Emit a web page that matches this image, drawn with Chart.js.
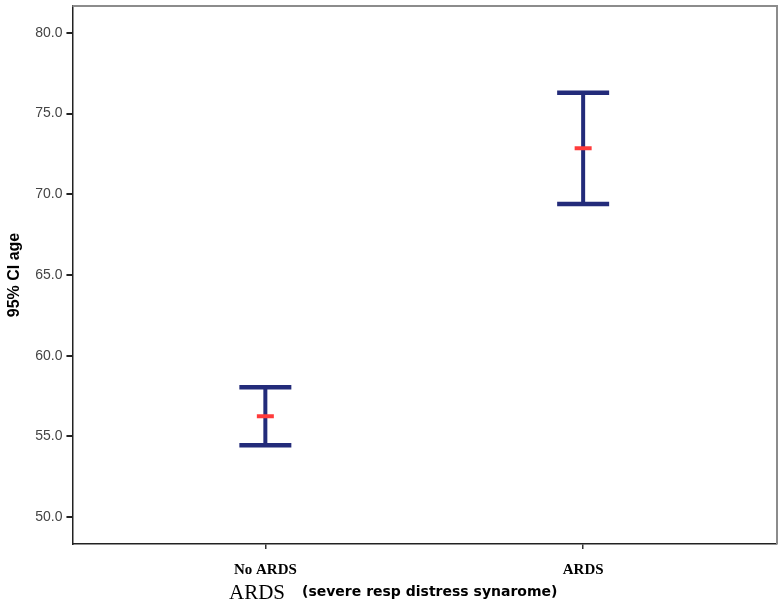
<!DOCTYPE html>
<html>
<head>
<meta charset="utf-8">
<script src="https://cdn.jsdelivr.net/npm/chart.js@4/dist/chart.umd.min.js"></script>
<style>
  html, body { margin: 0; padding: 0; background: #fff; }
  #wrap { width: 782px; height: 605px; position: relative; }
</style>
</head>
<body>
<div id="wrap"><canvas id="c" width="782" height="605"></canvas></div>
<script>
const categories = ["No ARDS", "ARDS"];
const lowerCI = [54.45, 69.4];
const meanAge = [56.25, 72.85];
const upperCI = [58.05, 76.3];
const yTickValues = [50, 55, 60, 65, 70, 75, 80];
const yTitle = "95% CI age";
const xTitleMain = "ARDS";
const xTitleSub = "(severe resp distress synarome)";

const NAVY = "#232b7a";
const RED = "#ff3b3b";

const whiskerSets = categories.map((c, i) => ({
  type: "line",
  data: [{x: i, y: lowerCI[i]}, {x: i, y: upperCI[i]}],
  borderColor: NAVY, borderWidth: 4, pointRadius: 0, showLine: true,
  borderCapStyle: "butt", order: 3
}));
const capSet = {
  type: "scatter",
  data: categories.flatMap((c, i) => [{x: i, y: upperCI[i]}, {x: i, y: lowerCI[i]}]),
  pointStyle: "line", pointRadius: 26, pointHoverRadius: 26,
  borderColor: NAVY, pointBorderWidth: 4.5, backgroundColor: NAVY, order: 2
};
const meanSet = {
  type: "scatter",
  data: categories.map((c, i) => ({x: i, y: meanAge[i]})),
  pointStyle: "line", pointRadius: 8.5, pointHoverRadius: 8.5,
  borderColor: RED, pointBorderWidth: 4, backgroundColor: RED, order: 1
};

const framePlugin = {
  id: "frame",
  beforeDatasetsDraw(chart) {
    const {ctx, chartArea: a} = chart;
    ctx.save();
    ctx.strokeStyle = "#8c8c8c";
    ctx.lineWidth = 2;
    ctx.beginPath();
    ctx.moveTo(a.left, a.top);
    ctx.lineTo(a.right, a.top);
    ctx.lineTo(a.right, a.bottom);
    ctx.stroke();
    ctx.restore();
  },
  afterDraw(chart) {
    const {ctx} = chart;
    ctx.save();
    ctx.fillStyle = "#000";
    ctx.textBaseline = "middle";
    ctx.font = "21px 'Liberation Serif', 'Times New Roman', serif";
    const w1 = ctx.measureText(xTitleMain).width;
    const gap = 17;
    const x0 = 229;
    ctx.fillText(xTitleMain, x0, 593);
    ctx.font = "bold 14px 'DejaVu Sans', sans-serif";
    ctx.fillText(xTitleSub, x0 + w1 + gap, 592);
    ctx.restore();
  }
};

new Chart(document.getElementById("c"), {
  data: { datasets: [...whiskerSets, capSet, meanSet] },
  options: {
    responsive: false,
    animation: false,
    layout: { autoPadding: false, padding: { top: 6, right: 5, bottom: 14, left: 0 } },
    plugins: { legend: { display: false }, tooltip: { enabled: false } },
    scales: {
      x: {
        type: "linear",
        min: -0.607, max: 1.61,
        afterBuildTicks: s => { s.ticks = categories.map((c, i) => ({value: i})); },
        ticks: {
          callback: v => categories[v],
          font: { family: "'Liberation Serif', 'Times New Roman', serif", size: 15, weight: "bold" },
          color: "#000", padding: 12, maxRotation: 0, autoSkip: false
        },
        grid: { drawOnChartArea: false, tickLength: 5, color: "#333", lineWidth: 1.5 },
        border: { color: "#222", width: 1.5 }
      },
      y: {
        type: "linear",
        min: 48.33, max: 81.67,
        afterBuildTicks: s => { s.ticks = yTickValues.map(v => ({value: v})); },
        afterFit: s => { s.paddingTop = 0; s.paddingBottom = 0; },
        ticks: {
          callback: v => Number(v).toFixed(1),
          font: { family: "'Liberation Sans', Arial, sans-serif", size: 14 },
          color: "#444", padding: 4
        },
        grid: { drawOnChartArea: false, tickLength: 6, color: "#222", lineWidth: 2 },
        border: { color: "#222", width: 1.5 },
        title: {
          display: true, text: yTitle,
          font: { family: "'Liberation Sans', Arial, sans-serif", size: 16, weight: "bold" },
          color: "#000", padding: { top: 5, bottom: 7 }
        }
      }
    }
  },
  plugins: [framePlugin]
});
</script>
</body>
</html>
